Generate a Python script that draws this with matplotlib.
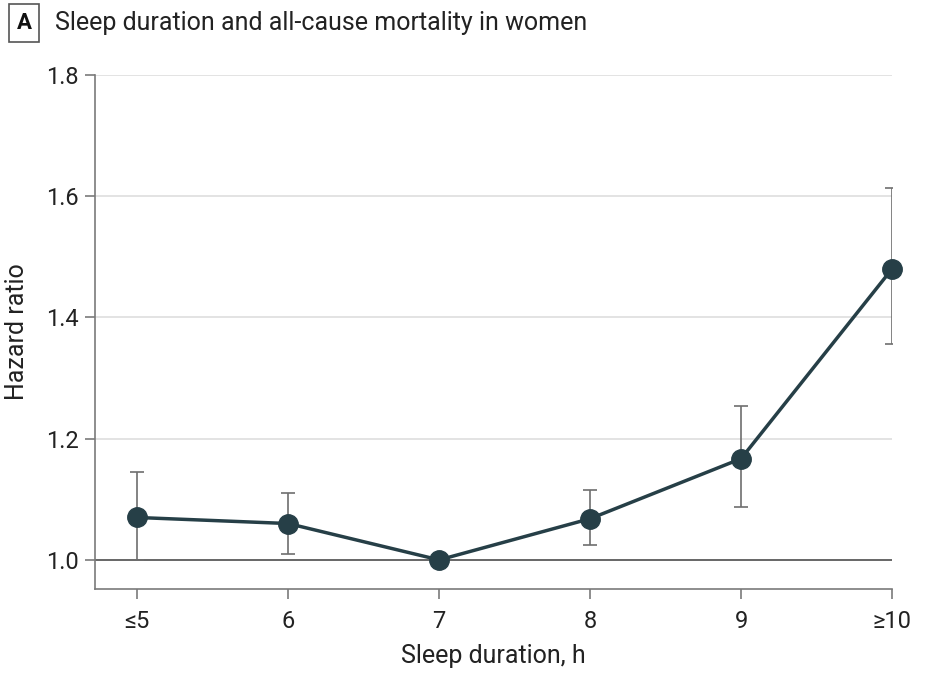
import numpy as np
import matplotlib
matplotlib.use("Agg")
import matplotlib.pyplot as plt

# data
categories = ["≤5", "6", "7", "8", "9", "≥10"]
hazard_ratio = [1.07, 1.06, 1.00, 1.068, 1.167, 1.48]
ci_low = [1.00, 1.01, 1.00, 1.025, 1.087, 1.356]
ci_high = [1.145, 1.11, 1.00, 1.115, 1.254, 1.614]
y_ticks = [1.0, 1.2, 1.4, 1.6, 1.8]

plt.rcParams["font.family"] = ["Roboto", "DejaVu Sans"]

fig = plt.figure(figsize=(9.34, 6.86), dpi=100)
ax = fig.add_axes([95 / 934, 1 - 589 / 686, (892 - 95) / 934, (589 - 75) / 686])

x = np.arange(len(categories))
hr = np.array(hazard_ratio)
lo = hr - np.array(ci_low)
hi = np.array(ci_high) - hr

# gridlines and reference line
for t in y_ticks[1:]:
    ax.axhline(t, color="#dedede", lw=1.2, zorder=0)
ax.axhline(1.0, color="#5a5a5a", lw=1.3, zorder=1)

# error bars (skip the reference category)
mask = lo + hi > 0
ax.errorbar(x[mask], hr[mask], yerr=[lo[mask], hi[mask]], fmt="none",
            ecolor="#6e6e6e", elinewidth=1.2, capsize=5, capthick=1.2, zorder=2)
ax.plot(x, hr, color="#263f47", lw=2.5, marker="o", markersize=14,
        zorder=3, clip_on=False)

ax.set_xlim(-0.28, 5)
ax.set_ylim(0.952, 1.8)
ax.set_xticks(x)
ax.set_xticklabels(categories)
ax.set_yticks(y_ticks)
ax.set_yticklabels([f"{t:.1f}" for t in y_ticks])

for s in ["top", "right"]:
    ax.spines[s].set_visible(False)
for s in ["left", "bottom"]:
    ax.spines[s].set_color("#7a7a7a")
    ax.spines[s].set_linewidth(1.2)
ax.tick_params(axis="both", colors="#7a7a7a", length=7, width=1.2,
               labelsize=17, labelcolor="#222222")
ax.tick_params(axis="x", pad=8)
ax.tick_params(axis="y", pad=5)

ax.set_xlabel("Sleep duration, h", fontsize=18, color="#222222", labelpad=8)
ax.set_ylabel("Hazard ratio", fontsize=18, color="#222222", labelpad=12)

# panel letter and title
fig.text(24 / 934, 1 - 23 / 686, "A", fontsize=16, fontweight="bold",
         ha="center", va="center", color="#111111",
         bbox=dict(boxstyle="square,pad=0.35", fc="white", ec="#555555", lw=1.2))
fig.text(55 / 934, 1 - 23 / 686, "Sleep duration and all-cause mortality in women",
         fontsize=18, ha="left", va="center", color="#222222")

fig.savefig("out.png", dpi=100)
